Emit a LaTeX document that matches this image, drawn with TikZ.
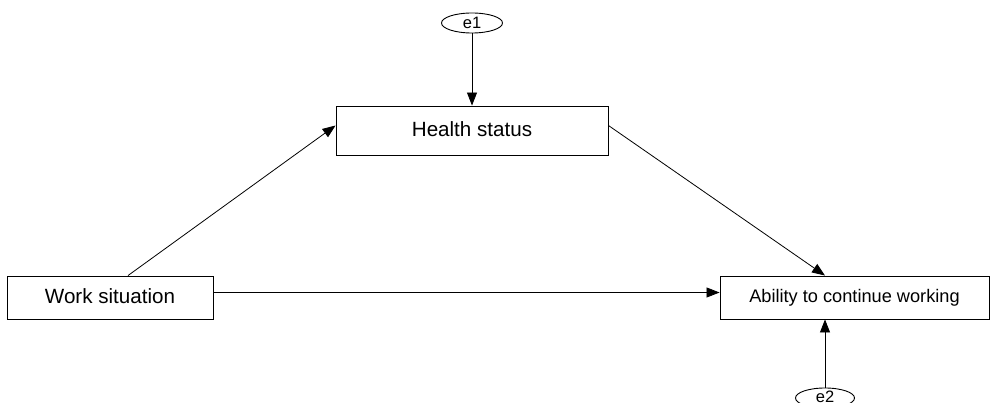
\documentclass[tikz,border=0pt]{standalone}
\usepackage{fontspec}
\setmainfont{Liberation Sans}
\usetikzlibrary{arrows.meta,shapes.geometric}

\tikzset{
  var/.style={draw, line width=0.9pt, rectangle, inner sep=0pt, font=\fontsize{20.6}{24}\selectfont},
  err/.style={draw, line width=0.9pt, ellipse, inner sep=0pt, minimum width=61pt, minimum height=20pt, font=\fontsize{16.5}{19}\selectfont},
  path/.style={line width=0.8pt, -{Triangle[length=13pt,width=10pt]}}
}

\begin{document}
\begin{tikzpicture}[x=1pt, y=-1pt]
  \useasboundingbox (0,0) rectangle (992,403);

  % observed variables
  \node[var, minimum width=272pt, minimum height=49pt] (health) at (472,130.5) {\raisebox{3pt}{Health status}};
  \node[var, minimum width=206pt, minimum height=43pt] (work) at (110,297.5) {\raisebox{2pt}{Work situation}};
  \node[var, minimum width=269pt, minimum height=43pt, font=\fontsize{18.2}{22}\selectfont] (ability) at (854.5,297.5) {\raisebox{2pt}{Ability to continue working}};

  % error terms
  \node[err] (e1) at (472,23) {\raisebox{-3pt}{e1}};
  \node[err, minimum width=59pt] (e2) at (825,398) {\raisebox{2.5pt}{e2}};

  % paths
  \draw[path] (e1.south) -- (health.north);
  \draw[path] ([xshift=18pt]work.north) -- ([yshift=5pt]health.west);
  \draw[path] ([yshift=5pt]health.east) -- (e2.north |- ability.north);
  \draw[path] ([yshift=5pt]work.east) -- ([yshift=5pt]ability.west);
  \draw[path] (e2.north) -- (e2.north |- ability.south);
\end{tikzpicture}
\end{document}
